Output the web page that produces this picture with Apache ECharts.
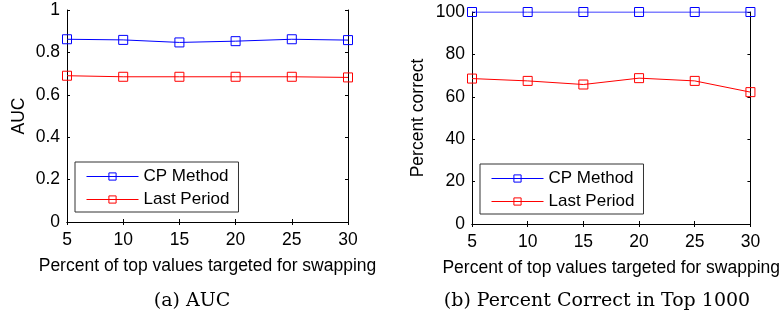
<!DOCTYPE html>
<html>
<head>
<meta charset="utf-8">
<script src="https://cdn.jsdelivr.net/npm/echarts@6/dist/echarts.min.js"></script>
<style>
  html, body { margin: 0; padding: 0; background: #fff; }
  #chart { width: 783px; height: 318px; }
</style>
</head>
<body>
<div id="chart"></div>
<script>
// ----------------------
// Dados
// ----------------------
const xValues = [5, 10, 15, 20, 25, 30];
const seriesNames = ['CP Method', 'Last Period'];

const aucCP = [0.862, 0.859, 0.847, 0.853, 0.862, 0.858];
const aucLast = [0.690, 0.685, 0.685, 0.685, 0.685, 0.682];

const pctCP = [100, 100, 100, 100, 100, 100];
const pctLast = [68.6, 67.5, 65.8, 68.8, 67.5, 62.2];

const captions = ['(a) AUC', '(b) Percent Correct in Top 1000'];

const BLUE = '#0000ff';
const RED = '#ff0000';
const COLORS = [BLUE, RED];
const FONT = 'Liberation Sans';
const FS = 17.5;

// ----------------------
// Helpers
// ----------------------
function pairs(ys) {
  return xValues.map((x, i) => [x, ys[i]]);
}

function lineSeries(name, ys, color, idx) {
  return {
    name: name,
    type: 'line',
    xAxisIndex: idx * 2,
    yAxisIndex: idx * 2,
    data: pairs(ys),
    symbol: 'rect',
    symbolSize: 9,
    lineStyle: { color: color, width: 1 },
    itemStyle: { color: 'rgba(255,255,255,0)', borderColor: color, borderWidth: 1 },
    emphasis: { disabled: true },
    z: 3
  };
}

const tickInside = { show: true, inside: true, length: 3, lineStyle: { color: '#000' } };

function xAxes(gridIndex) {
  return [
    {
      gridIndex, type: 'value', min: 5, max: 30, interval: 5,
      name: 'Percent of top values targeted for swapping',
      nameLocation: 'middle', nameGap: 35,
      nameTextStyle: { fontFamily: FONT, fontSize: FS, color: '#000' },
      axisLine: { lineStyle: { color: '#000' } },
      axisTick: tickInside,
      axisLabel: { fontFamily: FONT, fontSize: FS, color: '#000', margin: 9 },
      splitLine: { show: false }
    },
    {
      gridIndex, type: 'value', min: 5, max: 30, interval: 5, position: 'top',
      axisLine: { lineStyle: { color: '#000' } },
      axisTick: tickInside,
      axisLabel: { show: false },
      splitLine: { show: false }
    }
  ];
}

function yAxes(gridIndex, name, max, interval, nameGap) {
  return [
    {
      gridIndex, type: 'value', min: 0, max: max, interval: interval,
      name: name, nameLocation: 'middle', nameGap: nameGap,
      nameTextStyle: { fontFamily: FONT, fontSize: FS, color: '#000' },
      axisLine: { show: true, lineStyle: { color: '#000' } },
      axisTick: tickInside,
      axisLabel: { fontFamily: FONT, fontSize: FS, color: '#000', margin: 7 },
      splitLine: { show: false }
    },
    {
      gridIndex, type: 'value', min: 0, max: max, interval: interval, position: 'right',
      axisLine: { show: true, lineStyle: { color: '#000' } },
      axisTick: tickInside,
      axisLabel: { show: false },
      splitLine: { show: false }
    }
  ];
}

function legendFor(left, top) {
  return {
    orient: 'vertical',
    left: left, top: top,
    data: seriesNames.map((n, i) => ({
      name: n,
      itemStyle: { color: 'rgba(255,255,255,0)', borderColor: COLORS[i], borderWidth: 1 },
      lineStyle: { color: COLORS[i], width: 1 }
    })),
    itemWidth: 52, itemHeight: 9, itemGap: 6,
    padding: [6, 9, 4, 11],
    borderColor: '#333', borderWidth: 1, borderRadius: 0,
    backgroundColor: '#fff',
    selectedMode: false,
    textStyle: { fontFamily: FONT, fontSize: 17, color: '#000' }
  };
}

// ----------------------
// Grafico
// ----------------------
const chart = echarts.init(document.getElementById('chart'));
const captionStyle = { fontFamily: 'DejaVu Serif', fontSize: 19, fontWeight: 'normal', color: '#000' };
chart.setOption({
  animation: false,
  backgroundColor: '#fff',
  title: [
    { text: captions[0], left: 192, top: 292, padding: 0, textAlign: 'center', textStyle: captionStyle },
    { text: captions[1], left: 597, top: 292, padding: 0, textAlign: 'center', textStyle: captionStyle }
  ],
  legend: [legendFor(75, 162), legendFor(480, 164)],
  grid: [
    { left: 67, top: 10, width: 281, height: 212 },
    { left: 472, top: 12, width: 281, height: 212 }
  ],
  xAxis: [...xAxes(0), ...xAxes(1)],
  yAxis: [
    ...yAxes(0, 'AUC', 1, 0.2, 39),
    ...yAxes(1, 'Percent correct', 100, 20, 45)
  ],
  series: [
    lineSeries(seriesNames[0], aucCP, BLUE, 0),
    lineSeries(seriesNames[1], aucLast, RED, 0),
    lineSeries(seriesNames[0], pctCP, BLUE, 1),
    lineSeries(seriesNames[1], pctLast, RED, 1)
  ]
});

window.addEventListener('resize', () => chart.resize());
</script>
</body>
</html>
